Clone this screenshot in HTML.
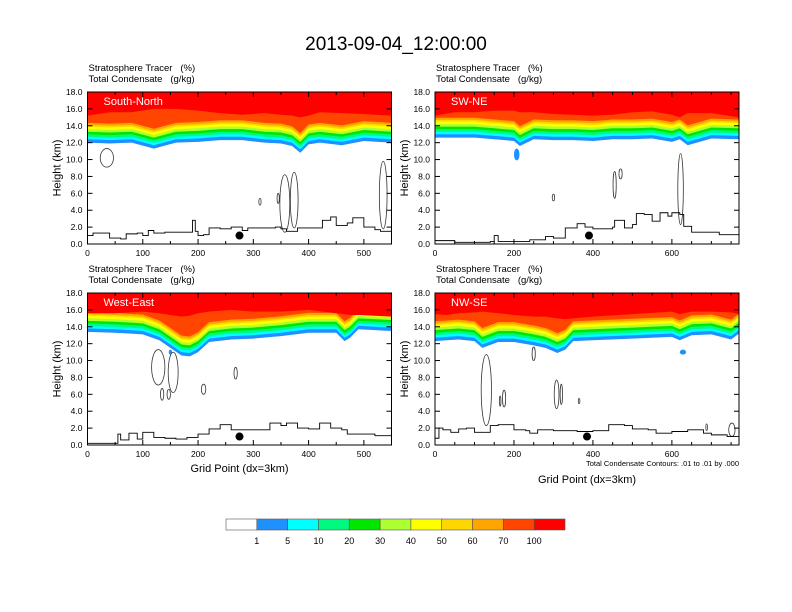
<!DOCTYPE html>
<html><head><meta charset="utf-8">
<style>
html,body{margin:0;padding:0;background:#fff;}
svg{display:block;font-family:"Liberation Sans",Arial,sans-serif;}
</style></head>
<body>
<svg id="fig" width="792" height="612" viewBox="0 0 792 612" xmlns="http://www.w3.org/2000/svg">
<text x="396" y="50" text-anchor="middle" font-size="19">2013-09-04_12:00:00</text>
<g id="panels"></g>
<g id="cbar"></g>
</svg>
<script>
// ---- data ----
const levelColors = ["#ffffff","#1e90ff","#00ffff","#00fa80","#00e600","#adff2f","#ffff00","#ffd700","#ffa500","#ff4500","#ff0000"];
const levelLabels = ["1","5","10","20","30","40","50","60","70","100"];
const bandOffsets = [0,0.4,0.7,1.0,1.3,1.6,1.9,2.1,2.35];

const p1Name = "South-North", p1Max = 550, p1Ticks = [0,100,200,300,400,500];
const p1X = [0,40,80,120,160,200,240,280,320,350,370,385,400,420,460,500,550];
const p1Base = [12.0,11.9,12.0,11.3,12.0,12.1,12.3,12.3,12.0,11.9,11.6,10.8,11.8,12.0,11.7,12.2,12.0];
const p1Red = [15.2,15.6,15.6,16.0,16.0,15.8,15.5,15.3,15.5,15.3,15.2,15.0,15.2,15.6,15.5,15.4,15.2];
const p1TerX = [0,10,30,40,60,70,90,100,110,120,140,185,190,195,200,210,220,240,260,280,290,340,350,360,380,420,425,440,450,470,480,500,520,530,550];
const p1TerZ = [1.0,1.3,1.3,0.7,0.6,1.2,1.3,1.0,1.6,1.3,1.4,1.4,2.8,1.5,1.0,1.1,1.9,1.8,2.0,1.6,1.9,2.0,1.8,1.5,1.9,1.9,2.8,3.2,2.2,2.5,3.1,2.0,1.7,1.5,1.9];
const p1Cont = [[35,10.2,12,1.1],[312,5,2,0.4],[345,5.4,2,0.6],[357,4.8,9,3.4],[374,5.2,7,3.3],[535,5.8,7,4.0]];
const p1Blobs = [];
const p1Dot = [275,1.0];

const p2Name = "SW-NE", p2Max = 770, p2Ticks = [0,200,400,600];
const p2X = [0,50,100,150,200,215,250,300,350,400,450,500,550,600,620,640,700,770];
const p2Base = [12.6,12.6,12.6,12.4,12.2,11.6,12.4,12.3,12.3,12.2,12.4,12.4,12.5,12.1,12.4,11.7,12.5,12.4];
const p2Red = [15.2,15.6,15.6,15.8,15.8,15.6,15.6,15.4,15.3,15.2,15.3,15.6,15.7,15.3,15.0,15.5,15.5,15.0];
const p2TerX = [0,50,140,150,160,240,280,300,330,360,380,400,450,455,480,500,510,530,550,570,590,600,620,630,650,700,720,770];
const p2TerZ = [0.4,0.2,0.3,1.0,0.3,0.5,0.9,0.7,1.9,2.4,2.0,1.8,2.0,2.8,1.9,2.3,3.6,3.5,2.7,3.7,3.3,3.7,3.5,2.1,1.4,1.4,1.1,1.0];
const p2Cont = [[300,5.5,3,0.4],[455,7.0,4,1.6],[470,8.3,4,0.6],[622,6.5,7,4.2]];
const p2Blobs = [[207,10.6,7,0.7]];
const p2Dot = [390,1.0];

const p3Name = "West-East", p3Max = 550, p3Ticks = [0,100,200,300,400,500];
const p3X = [0,50,100,130,150,170,185,200,220,260,300,350,400,450,465,475,490,550];
const p3Base = [13.4,13.3,13.1,12.4,11.5,10.6,10.5,11.0,12.2,12.5,12.6,12.9,13.3,13.3,12.3,12.7,13.7,13.5];
const p3Red = [15.6,15.6,15.8,15.6,15.4,15.2,15.3,15.6,15.8,16.0,15.8,15.8,16.0,15.6,15.5,15.4,15.4,15.2];
const p3TerX = [0,50,55,60,75,90,100,120,140,160,180,200,220,240,260,290,330,350,360,380,400,420,440,460,470,500,520,550];
const p3TerZ = [0.2,0.2,1.3,0.6,1.4,0.7,1.5,0.9,0.8,0.7,0.9,1.3,1.9,2.4,1.8,1.8,2.6,2.3,2.6,2.0,1.9,2.6,2.0,1.8,1.3,1.3,1.1,0.9];
const p3Cont = [[128,9.2,12,2.1],[155,8.6,9,2.4],[135,6.0,3,0.7],[147,6.0,3,0.6],[210,6.6,4,0.6],[268,8.5,3,0.7]];
const p3Blobs = [[150,11.0,3,0.3]];
const p3Dot = [275,1.0];

const p4Name = "NW-SE", p4Max = 770, p4Ticks = [0,200,400,600];
const p4X = [0,30,60,100,120,160,200,250,280,310,330,350,400,500,600,620,650,700,750,770];
const p4Base = [12.3,12.4,12.5,12.3,11.5,12.2,12.2,11.8,11.5,10.9,11.3,12.3,12.4,12.6,12.8,12.4,13.0,13.1,12.5,13.2];
const p4Red = [15.5,15.4,15.6,15.7,15.8,15.6,15.4,15.2,15.2,15.0,14.9,15.0,15.2,15.5,15.8,15.5,15.8,15.8,15.7,15.5];
const p4TerX = [0,10,20,40,60,80,100,130,140,160,200,230,240,260,300,340,360,400,440,480,500,540,560,600,640,680,700,740,770];
const p4TerZ = [0.8,2.0,1.8,1.5,1.9,2.0,1.5,1.5,2.3,2.4,1.8,1.7,1.4,1.8,1.7,1.7,1.6,1.7,2.4,2.3,1.9,1.8,1.4,1.6,1.8,1.4,1.2,1.0,0.5];
const p4Cont = [[130,6.5,13,4.2],[175,5.5,4,1.0],[165,5.2,2,0.6],[250,10.8,4,0.8],[308,6.0,6,1.7],[320,6.0,3,1.2],[365,5.2,2,0.3],[688,2.1,2,0.4],[752,1.8,8,0.8]];
const p4Blobs = [[628,11.0,8,0.3]];
const p4Dot = [385,1.0];

const yTicks = [0,2,4,6,8,10,12,14,16,18];

// ---- drawing ----
const NS = "http://www.w3.org/2000/svg";
function mk(tag, attrs, parent){const e=document.createElementNS(NS,tag);for(const k in attrs)e.setAttribute(k,attrs[k]);if(parent)parent.appendChild(e);return e;}

const panelDefs = [
 {name:p1Name,max:p1Max,ticks:p1Ticks,x:p1X,base:p1Base,red:p1Red,tx:p1TerX,tz:p1TerZ,cont:p1Cont,blobs:p1Blobs,dot:p1Dot,L:87.5,T:92,xt:false,key:"south-north"},
 {name:p2Name,max:p2Max,ticks:p2Ticks,x:p2X,base:p2Base,red:p2Red,tx:p2TerX,tz:p2TerZ,cont:p2Cont,blobs:p2Blobs,dot:p2Dot,L:435,T:92,xt:false,key:"sw-ne"},
 {name:p3Name,max:p3Max,ticks:p3Ticks,x:p3X,base:p3Base,red:p3Red,tx:p3TerX,tz:p3TerZ,cont:p3Cont,blobs:p3Blobs,dot:p3Dot,L:87.5,T:293,xt:true,key:"west-east"},
 {name:p4Name,max:p4Max,ticks:p4Ticks,x:p4X,base:p4Base,red:p4Red,tx:p4TerX,tz:p4TerZ,cont:p4Cont,blobs:p4Blobs,dot:p4Dot,L:435,T:293,xt:true,key:"nw-se"}
];
const W=304, H=152;
const root=document.getElementById('panels');

panelDefs.forEach((p,pi)=>{
 const g=mk('g',{},root);
 
 
 const sx=v=>p.L+v/p.max*W, sy=v=>p.T+H-v/18*H;
 const clipId='clip'+pi;
 const cp=mk('clipPath',{id:clipId},g); mk('rect',{x:p.L,y:p.T,width:W,height:H},cp);
 const plot=mk('g',{'clip-path':'url(#'+clipId+')'},g);
 // bands from top down: red, then levels
 const areaTop=(arr)=>{let d='M'+sx(p.x[0])+','+sy(18.5);p.x.forEach((xv,i)=>{d+=' L'+sx(xv)+','+sy(arr[i]);});d+=' L'+sx(p.x[p.x.length-1])+','+sy(18.5)+'Z';return d;};
 for(let k=0;k<bandOffsets.length;k++){
  const arr=p.base.map(b=>b+bandOffsets[k]);
  const band=mk('path',{d:areaTop(arr),fill:levelColors[k+1]},plot);
  
  
 }
 const red=mk('path',{d:areaTop(p.red),fill:levelColors[10]},plot);
 
 
 p.blobs.forEach(b=>{
  const e=mk('ellipse',{cx:sx(b[0]),cy:sy(b[1]),rx:b[2]/p.max*W,ry:b[3]/18*H,fill:levelColors[1]},plot);
  
  
 });
 p.cont.forEach(c=>{
  const e=mk('ellipse',{cx:sx(c[0]),cy:sy(c[1]),rx:c[2]/p.max*W,ry:c[3]/18*H,fill:'none',stroke:'#333',"stroke-width":0.8},plot);
  
  
 });
 let d='M'+sx(p.tx[0])+','+sy(p.tz[0]);
 for(let i=1;i<p.tx.length;i++){d+=' L'+sx(p.tx[i])+','+sy(p.tz[i-1])+' L'+sx(p.tx[i])+','+sy(p.tz[i]);}
 const ter=mk('path',{d:d,fill:'none',stroke:'#000',"stroke-width":0.9},plot);
 
 
 const dot=mk('circle',{cx:sx(p.dot[0]),cy:sy(p.dot[1]),r:4,fill:'#000'},g);
 
 
 const fr=mk('rect',{x:p.L,y:p.T,width:W,height:H,fill:'none',stroke:'#000',"stroke-width":1},g);
 
 
 // y ticks
 yTicks.forEach(v=>{
  const y=sy(v);
  mk('line',{x1:p.L,x2:p.L+5,y1:y,y2:y,stroke:'#000'},g);
  mk('line',{x1:p.L+W,x2:p.L+W-5,y1:y,y2:y,stroke:'#000'},g);
  const t=mk('text',{x:p.L-5,y:y+3,"text-anchor":"end","font-size":8.5},g);
  t.textContent=v.toFixed(1);
  
  
 });
 p.ticks.forEach(v=>{
  const x=sx(v);
  mk('line',{x1:x,x2:x,y1:p.T+H,y2:p.T+H-5,stroke:'#000'},g);
  mk('line',{x1:x,x2:x,y1:p.T,y2:p.T+5,stroke:'#000'},g);
  const t=mk('text',{x:x,y:p.T+H+12,"text-anchor":"middle","font-size":8.5},g);
  t.textContent=String(v);
  
  
 });
 const minorStep=p.max>600?50:50;
 for(let v=minorStep;v<p.max;v+=minorStep){ if(p.ticks.indexOf(v)>=0) continue; const x=sx(v);
  mk('line',{x1:x,x2:x,y1:p.T+H,y2:p.T+H-3,stroke:'#000'},g);
  mk('line',{x1:x,x2:x,y1:p.T,y2:p.T+3,stroke:'#000'},g);}
 const lab=mk('text',{x:p.L+16,y:p.T+13,fill:'#fff',"font-size":11},g);
 lab.textContent=p.name;
 
 
 const s1=mk('text',{x:p.L+1,y:p.T-21,"font-size":9.5},g);
 s1.textContent='Stratosphere Tracer   (%)';
 
 
 s1.setAttribute('xml:space','preserve');s1.style.whiteSpace='pre';
 const s2=mk('text',{x:p.L+1,y:p.T-10,"font-size":9.5},g);
 s2.textContent='Total Condensate   (g/kg)';
 
 
 s2.style.whiteSpace='pre';
 const ya=mk('text',{x:0,y:0,"font-size":11,"text-anchor":"middle",transform:'translate('+(p.L-27)+','+(p.T+H/2)+') rotate(-90)'},g);
 ya.textContent='Height (km)';
 
 
 if(p.xt){
  const xa=mk('text',{x:p.L+W/2,y:pi===3?p.T+H+38:p.T+H+27,"font-size":11,"text-anchor":"middle"},g);
  xa.textContent='Grid Point (dx=3km)';
  
  
 }
 if(pi===3){
  const ci=mk('text',{x:p.L+W,y:p.T+H+21,"font-size":7.5,"text-anchor":"end"},g);
  ci.textContent='Total Condensate Contours: .01 to .01 by .000';
  
  
 }
});

// colorbar
const cb=document.getElementById('cbar');
const cbL=226, cbR=565, cbT=519, cbH=11, bw=(cbR-cbL)/levelColors.length;
levelColors.forEach((c,i)=>{
 const r=mk('rect',{x:cbL+i*bw,y:cbT,width:bw,height:cbH,fill:c,stroke:'#555',"stroke-width":0.6},cb);
 
 
});
levelLabels.forEach((l,i)=>{
 const t=mk('text',{x:cbL+(i+1)*bw,y:544,"font-size":9,"text-anchor":"middle"},cb);
 t.textContent=l;
 
 
});
</script>
</body></html>
